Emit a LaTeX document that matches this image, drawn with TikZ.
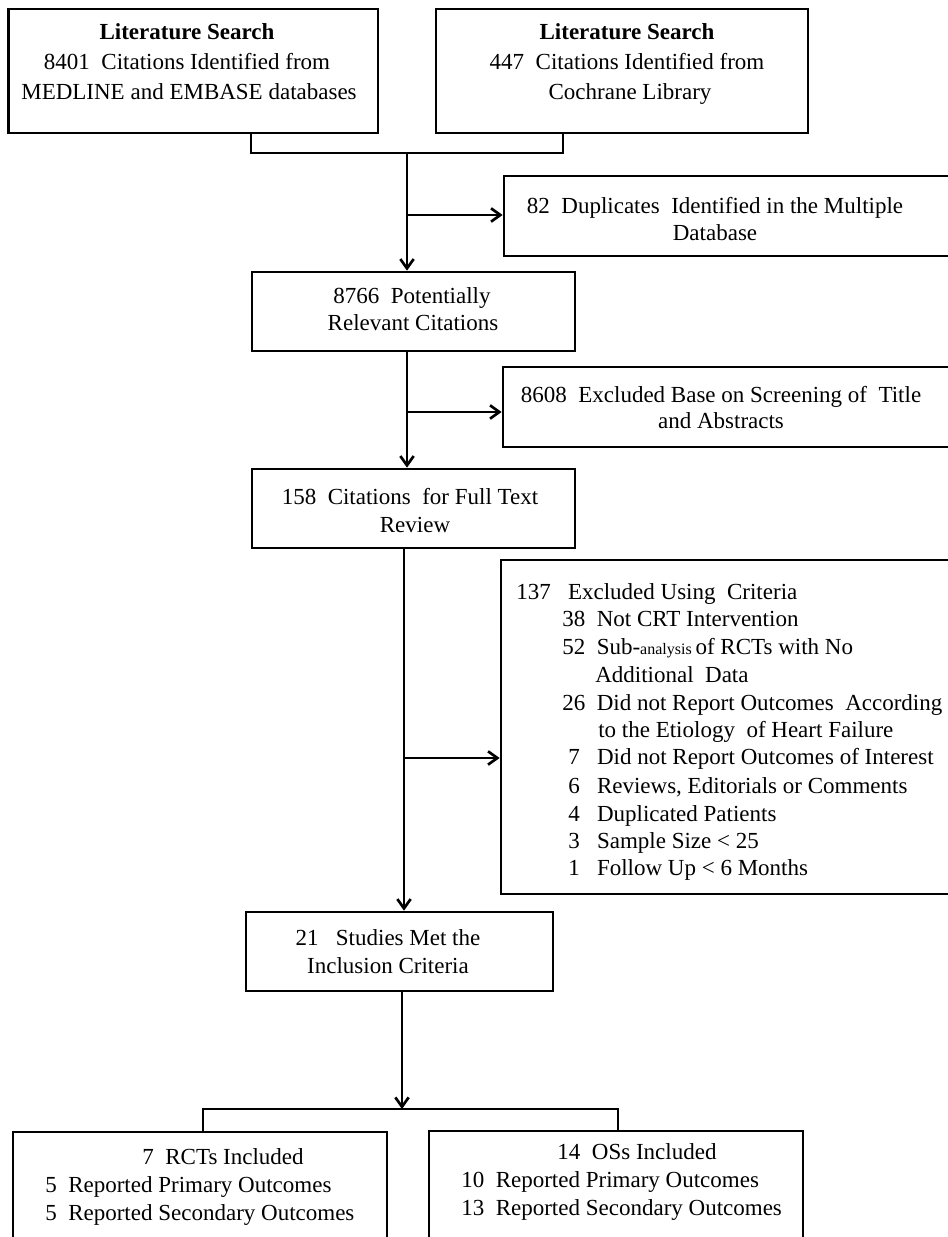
\documentclass[tikz,border=0pt]{standalone}
\usepackage{fontspec}
\setmainfont{Liberation Serif}
\usetikzlibrary{arrows.meta,fit}
\begin{document}
\begin{tikzpicture}[x=0.75pt,y=-0.75pt,
  box/.style={draw=black,line width=2pt,inner sep=0pt,fill=none},
  conn/.style={draw=black,line width=2pt},
  arr/.style={conn,-{Straight Barb[length=7pt,width=10pt]}},
  txt/.style={inner sep=0pt,anchor=base,font=\fontsize{17.25pt}{20pt}\selectfont},
  txtl/.style={txt,anchor=base west}]
\fill[white] (0,0) rectangle (948,1237);
\useasboundingbox (0,0) rectangle (948,1237);

% boxes
\node[box,fit={(8.5,9) (378,133)}] (A) {};
\node[box,fit={(436,9) (808,133)}] (B) {};
\node[box,fit={(504,176) (958,256)}] (D) {};
\node[box,fit={(252,272) (575,351)}] (C) {};
\node[box,fit={(503,367) (958,447)}] (F) {};
\node[box,fit={(252,469) (575,548)}] (E) {};
\node[box,fit={(501,560) (958,894)}] (H) {};
\node[box,fit={(246,912) (553,991)}] (G) {};
\node[box,fit={(13,1132) (387,1250)}] (I) {};
\node[box,fit={(429,1131) (803,1250)}] (J) {};

% texts
\node[txt,font=\fontsize{17.25pt}{20pt}\selectfont\bfseries] (a1) at (187,40) {Literature Search};
\node[txt] (a2) at (187,70) {8401\ \ Citations Identified from};
\node[txt] (a3) at (189,100) {MEDLINE and EMBASE databases};
\node[txt,font=\fontsize{17.25pt}{20pt}\selectfont\bfseries] (b1t) at (627,40) {Literature Search};
\node[txt] (b2t) at (627,70) {447\ \ Citations Identified from};
\node[txt] (b3t) at (630,100) {Cochrane Library};

\node[txt] (d1) at (715,214) {82\ \ Duplicates\ \ Identified in the Multiple};
\node[txt] (d2) at (715,241) {Database};

\node[txt] (c1t) at (412,304) {8766\ \ Potentially};
\node[txt] (c2t) at (413,330) {Relevant Citations};

\node[txt] (f1) at (721,402) {8608\ \ Excluded Base on Screening of\ \ Title};
\node[txt] (f2) at (721,428) {and Abstracts};

\node[txt] (e1) at (410,504) {158\ \ Citations\ \ for Full Text};
\node[txt] (e2) at (415,532) {Review};

\node[txtl] (h1) at (516,599) {137\ \ \ Excluded Using\ \ Criteria};
\node[txtl] (h2) at (562,626) {38\ \ Not CRT Intervention};
\node[txtl] (h3) at (562,654) {52\ \ Sub-{\fontsize{12pt}{14pt}\selectfont analysis}\,of RCTs with No};
\node[txtl] (h4) at (595,682) {Additional\ \ Data};
\node[txtl] (h5) at (562,710) {26\ \ Did not Report Outcomes\ \ According};
\node[txtl] (h6) at (598,737) {to the Etiology\ \ of Heart Failure};
\node[txtl] (h7) at (568,764) {7\ \ \ Did not Report Outcomes of Interest};
\node[txtl] (h8) at (568,793) {6\ \ \ Reviews, Editorials or Comments};
\node[txtl] (h9) at (568,821) {4\ \ \ Duplicated Patients};
\node[txtl] (h10) at (568,848) {3\ \ \ Sample Size < 25};
\node[txtl] (h11) at (568,875) {1\ \ \ Follow Up < 6 Months};

\node[txt] (g1) at (388,945) {21\ \ \ Studies Met the};
\node[txt] (g2) at (388,973) {Inclusion Criteria};

\node[txt] (i1) at (223,1164) {7\ \ RCTs Included};
\node[txtl] (i2) at (45,1192) {5\ \ Reported Primary Outcomes};
\node[txtl] (i3) at (45,1220) {5\ \ Reported Secondary Outcomes};

\node[txt] (j1t) at (637,1159) {14\ \ OSs Included};
\node[txtl] (j2) at (461,1187) {10\ \ Reported Primary Outcomes};
\node[txtl] (j3) at (461,1215) {13\ \ Reported Secondary Outcomes};

% connectors
\coordinate (bl) at (251,153);
\coordinate (br) at (563,153);
\coordinate (k1) at (407,153);
\coordinate (s1) at (407,215);
\draw[conn] (bl |- A.south) -- (bl) -- (br) -- (br |- B.south);
\draw[arr] (k1) -- (k1 |- C.north);
\draw[arr] (s1) -- (s1 -| D.west);

\coordinate (s2) at (407,412);
\draw[arr] (s2 |- C.south) -- (s2 |- E.north);
\draw[arr] (s2) -- (s2 -| F.west);

\coordinate (s3) at (404,758);
\draw[arr] (s3 |- E.south) -- (s3 |- G.north);
\draw[arr] (s3) -- (s3 -| H.west);

\coordinate (k4) at (402,1109);
\coordinate (bl2) at (203,1109);
\coordinate (br2) at (618,1109);
\draw[arr] (k4 |- G.south) -- (k4);
\draw[conn] (bl2 |- I.north) -- (bl2) -- (br2) -- (br2 |- J.north);
\end{tikzpicture}
\end{document}
